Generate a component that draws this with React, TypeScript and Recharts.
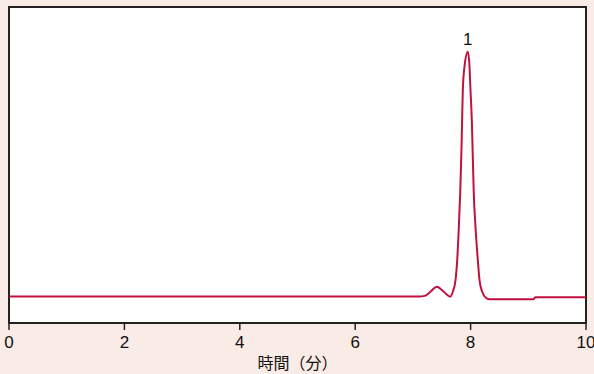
import { CartesianGrid, LineChart, Line, ReferenceArea, ReferenceDot, XAxis, YAxis } from 'recharts';

const BG = '#f9ebe5';
const LINE = '#c2103f';

// retention time (min) and detector response (arbitrary units)
const times = [
  0, 1, 2, 3, 4, 5, 6, 7, 7.116, 7.203, 7.289, 7.415, 7.531, 7.647, 7.692, 7.739, 7.768, 7.796, 7.82,
  7.843, 7.865, 7.894, 7.952, 7.981, 7.998, 8.021, 8.038, 8.055, 8.085, 8.125, 8.154, 8.201, 8.27, 8.33,
  8.6, 9.09, 9.12, 9.5, 10,
];
const response = [
  0, 0, 0, 0, 0, 0, 0, 0, 0, 0.6, 4, 9.8, 5, -0.2, 4.8, 16.5, 36.5, 69.5, 103.5, 150, 206.5, 229.8,
  244.8, 229.8, 206.5, 176.5, 139.8, 103.5, 69.5, 36.5, 16.5, 4.8, -1.5, -2.8, -2.8, -2.8, -0.8, -0.8,
  -0.8,
];
const xTicks = [0, 2, 4, 6, 8, 10];
const yRange = [-26.5, 289.5];
const peakLabels = [{ t: 7.952, v: 244.8, name: '1' }];

const data = times.map((t, i) => ({ t, v: response[i] }));

const FONT = '"Liberation Sans", Arial, sans-serif';

function Tick({ x, y, payload }: any) {
  return (
    <text x={x} y={y + 15} textAnchor="middle" fontFamily={FONT} fontSize={17} fill="#111">
      {payload.value}
    </text>
  );
}

export default function App() {
  return (
    <div style={{ position: 'absolute', left: 0, top: 0, width: 594, height: 374, background: BG }}>
      <LineChart width={594} height={374} data={data} margin={{ top: 7, right: 8, left: 9, bottom: 0 }}>
        <CartesianGrid fill="#fff" horizontal={false} vertical={false} />
        <XAxis
          dataKey="t"
          type="number"
          domain={[0, 10]}
          ticks={xTicks}
          height={51}
          tickSize={7}
          tickMargin={3}
          axisLine={{ stroke: '#222', strokeWidth: 2 }}
          tickLine={{ stroke: '#222', strokeWidth: 1.5 }}
          tick={<Tick />}
          label={{
            value: '時間（分）',
            position: 'insideBottom',
            offset: 5,
            style: { fontFamily: '"Noto Sans CJK JP", sans-serif', fontSize: 16, fill: '#111' },
          }}
        />
        <YAxis domain={yRange} hide />
        <ReferenceArea x1={0} x2={10} y1={yRange[0]} y2={yRange[1]} fill="none" stroke="#222" strokeWidth={2} fillOpacity={0} strokeOpacity={1} />
        <Line
          type="monotone"
          dataKey="v"
          stroke={LINE}
          strokeWidth={2}
          dot={false}
          isAnimationActive={false}
        />
        {peakLabels.map((p) => (
          <ReferenceDot
            key={p.name}
            x={p.t}
            y={p.v}
            r={0}
            fill="none"
            stroke="none"
            label={{ value: p.name, position: 'top', offset: 7, style: { fontFamily: FONT, fontSize: 17, fill: '#111' } }}
          />
        ))}
      </LineChart>
    </div>
  );
}
